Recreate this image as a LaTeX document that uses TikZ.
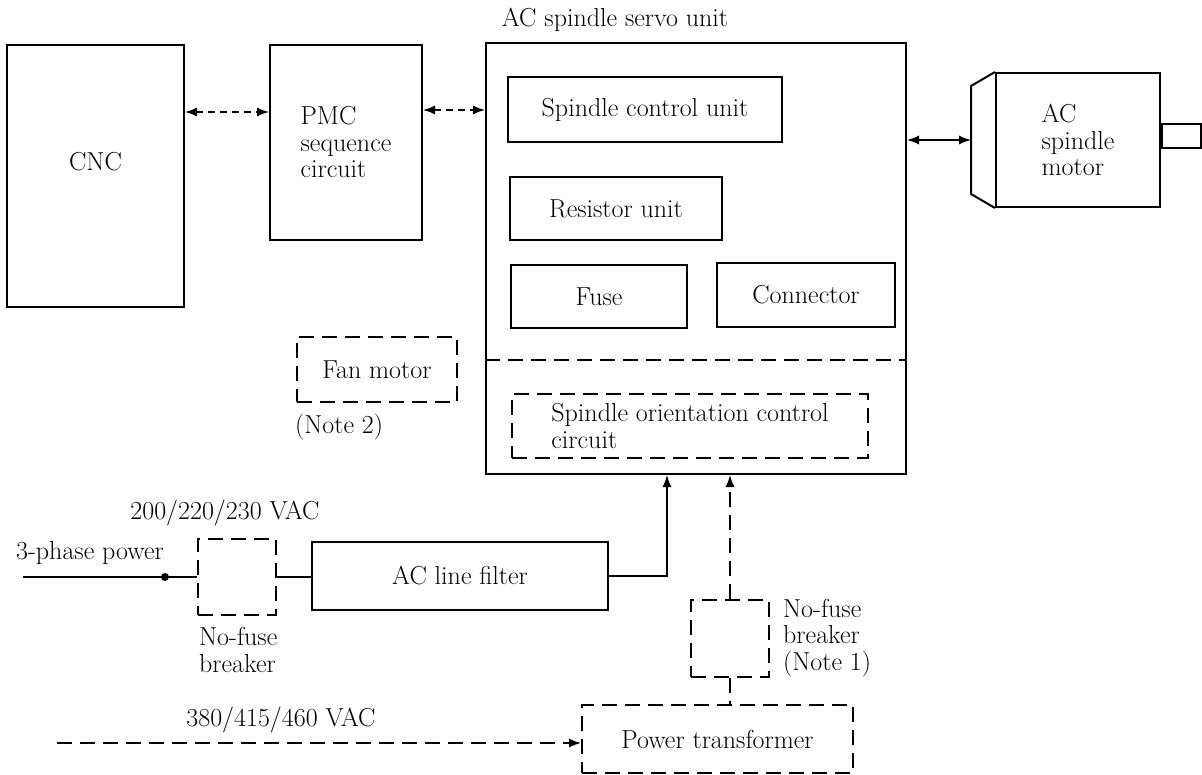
\documentclass[tikz,border=0pt]{standalone}
\usetikzlibrary{arrows.meta,positioning}

\begin{document}
\begin{tikzpicture}[
    x=1pt, y=-1pt,
    font=\fontsize{26}{26.5}\selectfont,
    box/.style={draw, line width=2pt, inner sep=0pt},
    dbox/.style={box, dash pattern=on 15pt off 8pt},
    txt/.style={inner sep=0pt, align=left},
    line/.style={line width=1.4pt},
    dline/.style={line, dash pattern=on 15pt off 8pt},
    arr/.style={line, -{Latex[length=12pt,width=9pt]}},
    both/.style={line, {Latex[length=12pt,width=9pt]}-{Latex[length=12pt,width=9pt]}},
    sig/.style={both, dash pattern=on 7pt off 5pt}
]
\useasboundingbox (0,0) rectangle (1202,775);

% control side
\node[box, minimum width=177pt, minimum height=262pt, label={[name=cnclbl, yshift=14pt]center:CNC}] (cnc) at (95.5,176) {};
\node[box, minimum width=152pt, minimum height=195pt, align=left] (pmc) at (346,142.5) {PMC\\sequence\\circuit};

% servo unit
\node[box, minimum width=420pt, minimum height=431pt] (servo) at (696,258.5) {};
\node[txt] (servolbl) at (615,20) {AC spindle servo unit};
\node[box, minimum width=274pt, minimum height=65pt] (ctrl) at (645,109.5) {Spindle control unit};
\node[box, minimum width=212pt, minimum height=63pt] (resistor) at (616,208.5) {Resistor unit};
\node[box, minimum width=176pt, minimum height=63pt] (fuse) at (599,296.5) {Fuse};
\node[box, minimum width=178pt, minimum height=64pt] (conn) at (806,295) {Connector};
\draw[dline] (servo.west |- 0,360) -- (servo.east |- 0,360);
\node[dbox, minimum width=356pt, minimum height=64pt, align=left] (orient) at (690,426) {Spindle orientation control\\circuit};

% motor
\node[box, minimum width=164pt, minimum height=134pt, align=left] (motor) at (1078,140) {AC\\spindle\\motor};
\coordinate (face) at ([xshift=-24pt]motor.west);
\draw[line width=2pt] (motor.north west) -- ([xshift=-24pt,yshift=-14pt]motor.north west)
    -- ([xshift=-24pt,yshift=14pt]motor.south west) -- (motor.south west);
\node[box, minimum width=39pt, minimum height=24pt, anchor=west] (shaft) at ([yshift=4pt]motor.east) {};

% fan
\node[dbox, minimum width=160pt, minimum height=65pt] (fan) at (377,369.5) {Fan motor};
\node[txt, anchor=west] (note2) at (295,427) {(Note 2)};

% power input
\node[txt] (vac1) at (225,513) {200/220/230 VAC};
\node[txt] (phase) at (90,553) {3-phase power};
\coordinate (src) at (23,577);
\coordinate (dot) at (165,577);
\node[dbox, minimum width=78pt, minimum height=76pt] (nfb1) at (237,577) {};
\node[txt, anchor=west] (nfb1lbl) at (199,650) {No-fuse\\breaker};
\node[box, minimum width=296pt, minimum height=68pt] (filter) at (460,576) {AC line filter};
\node[dbox, minimum width=78pt, minimum height=77pt] (nfb2) at (730,638.5) {};
\node[txt, anchor=west] (nfb2lbl) at (783,638) {No-fuse\\breaker\\(Note 1)};
\node[dbox, minimum width=271pt, minimum height=68pt] (xfmr) at (717.5,739) {Power transformer};
\node[txt] (vac2) at (281,720) {380/415/460 VAC};
\coordinate (src2) at (57,743);

% connections
\draw[sig] ([yshift=64pt]cnc.east) -- ([yshift=64pt]cnc.east -| pmc.west);
\draw[sig] ([yshift=32.5pt]pmc.east) -- ([yshift=32.5pt]pmc.east -| servo.west);
\draw[both] (servo.east |- face) -- (face);
\draw[line] (src) -- (dot) -- (nfb1.west);
\fill (dot) circle (4pt);
\draw[line] (nfb1.east) -- (nfb1.east -| filter.west);
\draw[arr] (filter.east) -| ([xshift=-29pt]servo.south);
\draw[arr, dash pattern=on 15pt off 8pt] (nfb2.north) -- (nfb2.north |- servo.south);
\draw[dline] (nfb2.south) -- (nfb2.south |- xfmr.north);
\draw[arr, dash pattern=on 15pt off 8pt] (src2) -- (src2 -| xfmr.west);
\end{tikzpicture}
\end{document}
